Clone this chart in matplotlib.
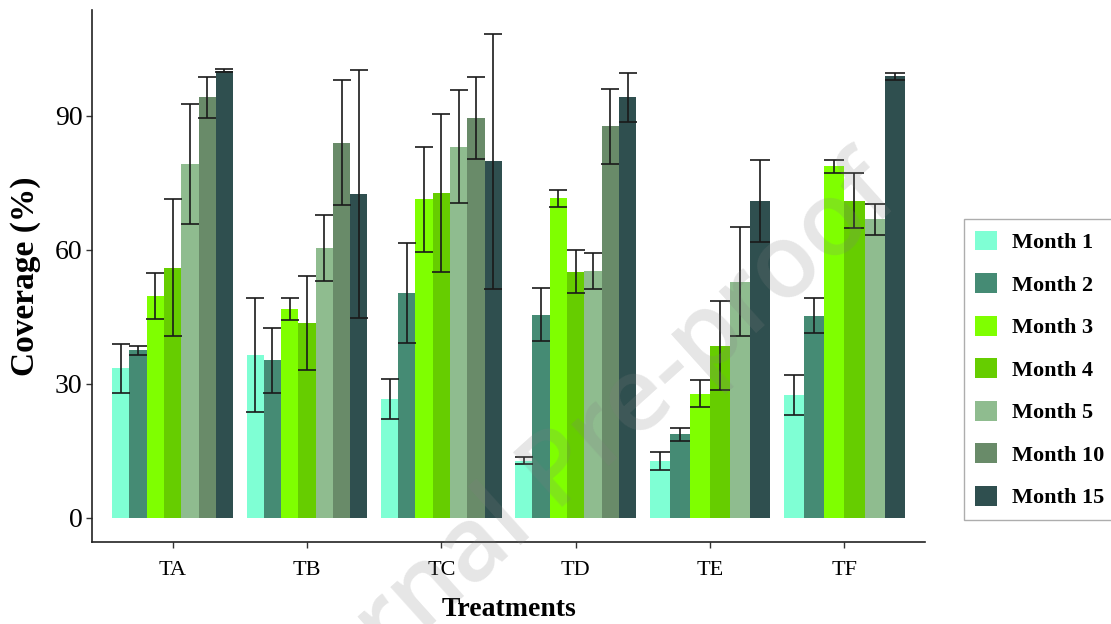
import numpy as np
import matplotlib
matplotlib.use("Agg")
import matplotlib.pyplot as plt
from matplotlib.patches import Patch

treatments = ["TA", "TB", "TC", "TD", "TE", "TF"]
months = ["Month 1", "Month 2", "Month 3", "Month 4", "Month 5", "Month 10", "Month 15"]
colors = ["#7FFFD4", "#458B74", "#7FFF00", "#66CD00", "#8FBC8F", "#698B69", "#2F4F4F"]

# mean coverage per treatment (rows) and month (cols); nan = not measured
nan = np.nan
means = np.array([
    [33.5, 37.5, 49.7, 56.0, 79.2, 94.1, 100.1],
    [36.4, 35.3, 46.7, 43.6, 60.4, 84.0, 72.5],
    [26.6, 50.4, 71.3, 72.8, 83.1, 89.5, 79.8],
    [12.8, 45.5, 71.5, 55.1, 55.3, 87.7, 94.1],
    [12.7, 18.7, 27.8, 38.5, 52.9, nan, 70.9],
    [27.5, 45.2, 78.7, 71.0, 66.8, nan, 98.8],
])
errs = np.array([
    [5.5, 1.0, 5.1, 15.3, 13.4, 4.6, 0.3],
    [12.7, 7.3, 2.5, 10.5, 7.4, 14.0, 27.8],
    [4.4, 11.2, 11.7, 17.7, 12.7, 9.2, 28.6],
    [0.8, 6.0, 2.0, 4.8, 4.0, 8.4, 5.4],
    [2.0, 1.5, 3.0, 10.0, 12.2, nan, 9.2],
    [4.5, 3.9, 1.5, 6.1, 3.5, nan, 0.7],
])

serif = ["Liberation Serif", "DejaVu Serif"]
plt.rcParams["font.family"] = serif

W, H = 1111, 624
fig = plt.figure(figsize=(W / 100, H / 100), dpi=100)
ax = fig.add_axes([92 / W, (H - 542) / H, (925 - 92) / W, (542 - 9.5) / H])

group_w = 0.9
px_per_unit = (925 - 92) / 6.2
for i, t in enumerate(treatments):
    present = [j for j in range(len(months)) if not np.isnan(means[i, j])]
    n = len(present)
    w = group_w / n
    for k, j in enumerate(present):
        x = (i + 1) + (k - (n - 1) / 2) * w
        ax.bar(x, means[i, j], width=w, color=colors[j], edgecolor="none", zorder=2)
        ax.errorbar(x, means[i, j], yerr=errs[i, j], fmt="none", ecolor="#1a1a1a",
                    elinewidth=1.2, capsize=w * px_per_unit / 2 * 0.72, capthick=1.2,
                    zorder=3)

ax.set_xlim(0.4, 6.6)
ax.set_ylim(-5.42, 113.8)
ax.set_xticks(range(1, 7))
ax.set_xticklabels(treatments, fontsize=16)
ax.set_yticks([0, 30, 60, 90])
ax.set_yticklabels(["0", "30", "60", "90"], fontsize=20)
ax.tick_params(axis="both", length=4, width=1, color="#333333")
ax.tick_params(axis="x", pad=10)
ax.tick_params(axis="y", pad=3)
for s in ["top", "right"]:
    ax.spines[s].set_visible(False)
for s in ["left", "bottom"]:
    ax.spines[s].set_linewidth(1.2)
    ax.spines[s].set_color("#222222")

ax.set_ylabel("Coverage (%)", fontsize=24, fontweight="bold", labelpad=10)
ax.set_xlabel("Treatments", fontsize=20, fontweight="bold", labelpad=12)

handles = [Patch(facecolor=c, edgecolor="none") for c in colors]
leg = fig.legend(handles, months, loc="center left",
                 bbox_to_anchor=(964 / W, (H - 369.5) / H),
                 bbox_transform=fig.transFigure, frameon=True, fancybox=False,
                 prop={"family": serif, "weight": "bold", "size": 16},
                 handlelength=1.0, handleheight=1.0, labelspacing=0.9,
                 borderpad=0.5, handletextpad=0.65, borderaxespad=0)
leg.get_frame().set_edgecolor("#999999")
leg.get_frame().set_linewidth(1.0)

# watermark
fig.text(572 / W, 1 - 470 / H, "Journal Pre-proof", fontsize=74, color="#808080",
         alpha=0.2, rotation=42, ha="center", va="center", family="Open Sans",
         fontweight="semibold", rotation_mode="anchor", zorder=10)

fig.savefig("out.png", dpi=100)
